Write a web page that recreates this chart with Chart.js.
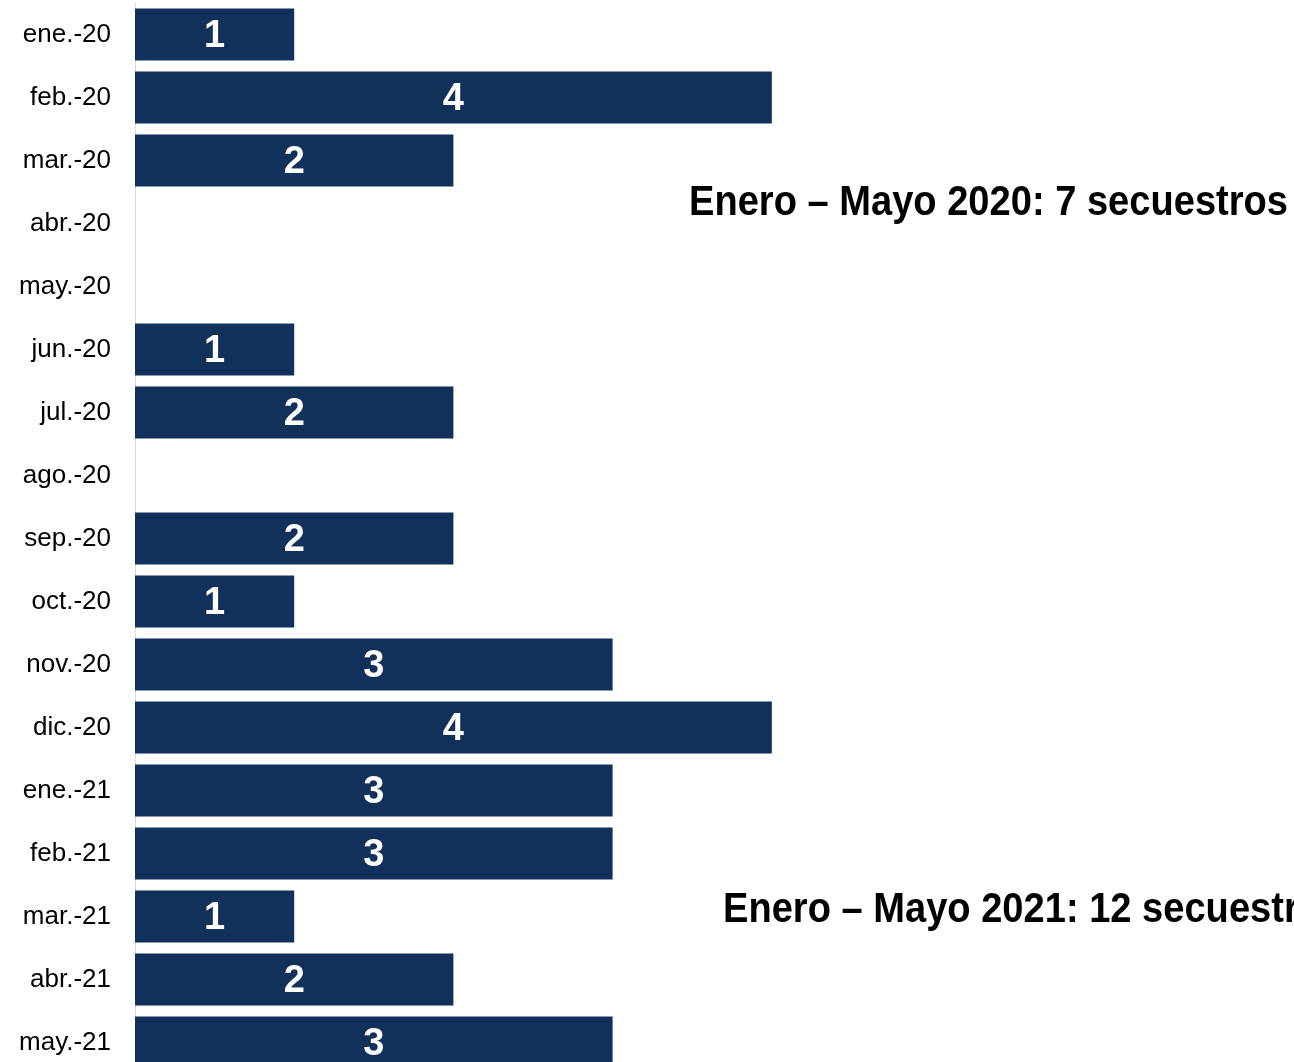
<!DOCTYPE html>
<html>
<head>
<meta charset="utf-8">
<script src="https://cdn.jsdelivr.net/npm/chart.js@4"></script>
<style>
    html, body { margin: 0; padding: 0; background: #fff; overflow: hidden; }
    #wrap { width: 1294px; height: 1062px; overflow: hidden; }
    #box { width: 1294px; height: 1074px; position: relative; }
</style>
</head>
<body>
<div id="wrap">
    <div id="box"><canvas id="kidnapChart"></canvas></div>
</div>
<script>
const months = ['ene.-20', 'feb.-20', 'mar.-20', 'abr.-20', 'may.-20', 'jun.-20', 'jul.-20', 'ago.-20',
    'sep.-20', 'oct.-20', 'nov.-20', 'dic.-20', 'ene.-21', 'feb.-21', 'mar.-21', 'abr.-21', 'may.-21'];
const kidnappings = [1, 4, 2, 0, 0, 1, 2, 0, 2, 1, 3, 4, 3, 3, 1, 2, 3];
const notes = ['Enero \u2013 Mayo 2020: 7 secuestros', 'Enero \u2013 Mayo 2021: 12 secuestros'];

const barColor = '#11305a';

// white value in the middle of each bar
const valueLabels = {
    id: 'valueLabels',
    afterDatasetsDraw(chart) {
        const ctx = chart.ctx;
        const meta = chart.getDatasetMeta(0);
        ctx.save();
        ctx.fillStyle = '#ffffff';
        ctx.font = 'bold 38px "Liberation Sans", Arial, sans-serif';
        ctx.textAlign = 'center';
        ctx.textBaseline = 'middle';
        meta.data.forEach((bar, i) => {
            const v = kidnappings[i];
            if (!v) return;
            ctx.fillText(String(v), (bar.x + bar.base) / 2, bar.y + 2);
        });
        ctx.restore();
    }
};

// the two summary notes on the right, squeezed like a narrow font
const summaryNotes = {
    id: 'summaryNotes',
    afterDraw(chart) {
        const ctx = chart.ctx;
        ctx.save();
        ctx.fillStyle = '#000000';
        ctx.textAlign = 'left';
        ctx.textBaseline = 'alphabetic';
        ctx.font = 'bold 42px "Liberation Sans", Arial, sans-serif';
        const sx = 599 / ctx.measureText(notes[0]).width;
        ctx.save();
        ctx.translate(689, 215);
        ctx.scale(sx, 1);
        ctx.fillText(notes[0], 0, 0);
        ctx.restore();
        ctx.save();
        ctx.translate(723, 922);
        ctx.scale(sx, 1);
        ctx.fillText(notes[1], 0, 0);
        ctx.restore();
        ctx.restore();
    }
};

const ctx = document.getElementById('kidnapChart').getContext('2d');
new Chart(ctx, {
    type: 'bar',
    data: {
        labels: months,
        datasets: [{
            label: 'Secuestros',
            data: kidnappings,
            backgroundColor: barColor,
            borderWidth: 0,
            barPercentage: 0.825,
            categoryPercentage: 1
        }]
    },
    options: {
        indexAxis: 'y',
        responsive: true,
        maintainAspectRatio: false,
        animation: false,
        layout: { padding: { top: 3, left: 0, right: 0, bottom: 0 } },
        plugins: {
            legend: { display: false },
            tooltip: { enabled: false }
        },
        scales: {
            x: {
                display: false,
                min: 0,
                max: 7.28
            },
            y: {
                afterFit(scale) {
                    scale.width = 135;
                    // labels sit in the middle of each band, no edge room needed
                    scale.paddingTop = 0;
                    scale.paddingBottom = 0;
                },
                grid: { display: false, drawTicks: false },
                border: { display: true, color: '#d9d9d9', width: 1 },
                ticks: {
                    color: '#000000',
                    padding: 24,
                    font: { family: '"Liberation Sans", Arial, sans-serif', size: 26 }
                }
            }
        }
    },
    plugins: [valueLabels, summaryNotes]
});
</script>
</body>
</html>
